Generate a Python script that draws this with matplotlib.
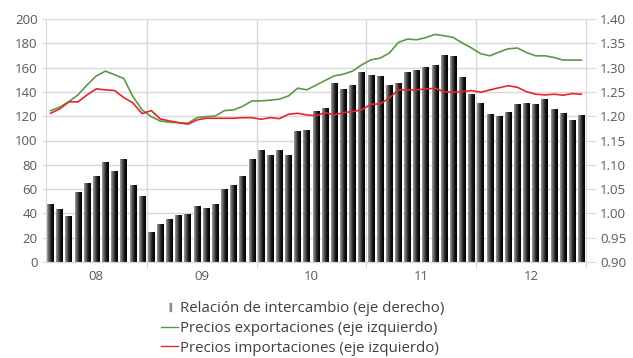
import numpy as np
import matplotlib
matplotlib.use('Agg')
from matplotlib import pyplot as plt
from matplotlib.colors import LinearSegmentedColormap
from matplotlib.lines import Line2D

plt.rcParams['font.family'] = ['Open Sans', 'DejaVu Sans']

# monthly data, Feb 2008 - Dec 2012
years = ['08', '09', '10', '11', '12']
months_per_year = [11, 12, 12, 12, 12]

# terms of trade (right axis)
relacion = [1.019, 1.009, 0.994, 1.044, 1.062, 1.077, 1.106, 1.087, 1.112, 1.058, 1.036,
            0.961, 0.978, 0.988, 0.996, 0.999, 1.015, 1.011, 1.019, 1.050, 1.058, 1.077, 1.112,
            1.131, 1.120, 1.131, 1.120, 1.170, 1.172, 1.211, 1.217, 1.269, 1.256, 1.265, 1.291,
            1.285, 1.283, 1.265, 1.269, 1.291, 1.296, 1.302, 1.306, 1.326, 1.324, 1.281, 1.246,
            1.228, 1.205, 1.201, 1.209, 1.225, 1.228, 1.225, 1.236, 1.215, 1.207, 1.192, 1.203]

# export prices (left axis)
exportaciones = [124.6, 127.4, 132.0, 137.6, 145.8, 153.2, 157.1, 154.1, 151.0, 136.1, 125.2,
                 119.6, 116.0, 115.0, 114.6, 114.2, 118.8, 119.6, 120.2, 124.6, 125.2, 128.2, 132.6,
                 132.6, 133.2, 134.0, 136.7, 143.1, 141.7, 145.6, 149.4, 153.2, 154.6, 157.1, 162.3,
                 166.4, 167.8, 171.9, 180.7, 183.5, 182.9, 184.7, 187.3, 186.2, 184.8, 180.2, 176.1,
                 171.4, 169.7, 172.8, 175.5, 176.1, 172.4, 169.7, 169.7, 168.3, 166.2, 166.2, 166.2]

# import prices (left axis)
importaciones = [122.4, 126.0, 131.8, 131.8, 137.6, 142.5, 141.7, 141.1, 135.3, 130.9, 122.1,
                 124.6, 117.7, 116.1, 114.7, 113.4, 116.9, 118.3, 118.3, 118.3, 118.3, 118.8, 118.8,
                 117.5, 118.8, 118.0, 121.6, 122.4, 121.0, 120.5, 122.9, 121.0, 122.9, 123.8, 125.2,
                 129.9, 130.1, 134.8, 141.7, 141.7, 141.7, 142.4, 143.0, 140.2, 139.7, 140.2, 141.1,
                 139.7, 141.6, 143.4, 145.1, 143.8, 140.2, 138.1, 137.5, 138.1, 137.3, 138.6, 138.1]

labels = ['Relación de intercambio (eje derecho)',
          'Precios exportaciones (eje izquierdo)',
          'Precios importaciones (eje izquierdo)']

grey_txt = '#595959'
grid_c = '#d9d9d9'
green = '#5a9a44'
red = '#e8242b'

fig = plt.figure(figsize=(6.33, 3.58), dpi=100)
fig.subplots_adjust(left=46/633, right=586/633, top=1-19/358, bottom=1-262/358)

ax = fig.add_subplot(111)  # bars, right-hand scale
ax2 = ax.twinx()           # lines, left-hand scale

x = np.arange(len(relacion))
base = 0.90
bars = ax.bar(x, np.array(relacion) - base, bottom=base, width=0.74, color='none', edgecolor='none', zorder=2)

# horizontal grey->black shading inside each bar
cmap = LinearSegmentedColormap.from_list('bargrad', ['#a0a0a0', '#555555', '#151515', '#000000'])
grad = np.linspace(0, 1, 64).reshape(1, -1)
for b in bars:
    x0, y0 = b.get_x(), b.get_y()
    im = ax.imshow(grad, cmap=cmap, aspect='auto', interpolation='bilinear',
                   extent=(x0, x0 + b.get_width(), y0, y0 + b.get_height()), zorder=2)
    im.set_clip_path(b)

ax.set_xlim(-0.5, len(x) - 0.5)
ax.set_ylim(0.90, 1.40)
ax.set_yticks(np.arange(0.90, 1.401, 0.05))
ax.set_yticklabels(['%.2f' % v for v in np.arange(0.90, 1.401, 0.05)])
ax.yaxis.tick_right()
ax.grid(axis='y', color=grid_c, linewidth=1.0, zorder=0)
ax.set_axisbelow(True)

bounds = np.cumsum(months_per_year)[:-1] - 0.5
for bx in bounds:
    ax.axvline(bx, color=grid_c, linewidth=1.0, zorder=1)

centers = []
start = -0.5
for n in months_per_year:
    centers.append(start + n / 2)
    start += n
ax.set_xticks(list(bounds) + [len(x) - 0.5])
ax.set_xticklabels([])
ax.set_xticks(centers, minor=True)
ax.set_xticklabels(years, minor=True)
ax.tick_params(axis='x', which='minor', length=0, pad=6, labelsize=9.5, labelcolor=grey_txt)
ax.tick_params(axis='x', which='major', length=4, color=grid_c)
ax.tick_params(axis='y', which='both', length=7, color=grid_c, labelsize=9.5, labelcolor=grey_txt, pad=3)

ax2.plot(x, exportaciones, color=green, linewidth=1.2, zorder=3)
ax2.plot(x, importaciones, color=red, linewidth=1.2, zorder=3)
ax2.set_ylim(0, 200)
ax2.set_yticks(np.arange(0, 201, 20))
ax2.yaxis.tick_left()
ax2.tick_params(axis='y', length=3, color=grid_c, labelsize=9.5, labelcolor=grey_txt, pad=3)

for a in (ax, ax2):
    a.spines['top'].set_visible(False)
    for s in ('left', 'right', 'bottom'):
        a.spines[s].set_color(grid_c)

bar_mark = [(-0.35, -1), (0.35, -1), (0.35, 1), (-0.35, 1)]
handles = [Line2D([], [], linestyle='none', marker=bar_mark, markersize=6, color='#8c8c8c'),
           Line2D([], [], color=green, linewidth=1.0),
           Line2D([], [], color=red, linewidth=1.0)]
fig.legend(handles, labels, loc='upper center', bbox_to_anchor=(303/633, 1-288/358),
           frameon=False, handlelength=1.1, handletextpad=0.15, labelspacing=0.3,
           prop={'size': 10.8}, labelcolor='#404040')

fig.savefig('out.png', dpi=100)
